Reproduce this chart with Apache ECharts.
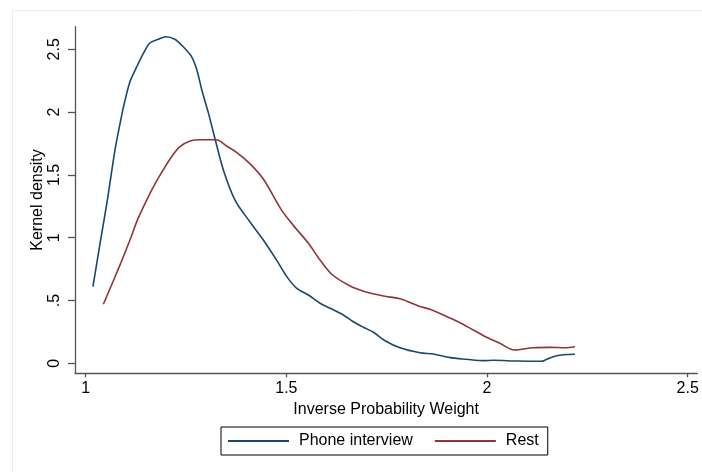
<!DOCTYPE html>
<html>
<head>
<meta charset="utf-8">
<script src="https://cdn.jsdelivr.net/npm/echarts@6/dist/echarts.min.js"></script>
<style>html,body{margin:0;padding:0;background:#fff}#c{width:702px;height:472px}</style>
</head>
<body>
<div id="c"></div>
<script>
const xTicks = [1, 1.5, 2, 2.5];
const yTicks = [0, 0.5, 1, 1.5, 2, 2.5];
const yTickLabels = ['0', '.5', '1', '1.5', '2', '2.5'];

const phoneX = [1.018, 1.036, 1.054, 1.073, 1.085, 1.094, 1.110, 1.127, 1.144, 1.160, 1.181, 1.200, 1.222, 1.243, 1.264, 1.277, 1.289, 1.306, 1.322, 1.343, 1.372, 1.409, 1.443, 1.476, 1.501, 1.526, 1.555, 1.584, 1.609, 1.642, 1.667, 1.692, 1.717, 1.746, 1.783, 1.833, 1.866, 1.908, 1.949, 1.991, 2.016, 2.074, 2.136, 2.145, 2.165, 2.190, 2.219];
const phoneY = [0.61, 0.96, 1.30, 1.70, 1.90, 2.04, 2.24, 2.36, 2.47, 2.55, 2.58, 2.60, 2.58, 2.52, 2.44, 2.335, 2.18, 1.99, 1.79, 1.54, 1.30, 1.127, 0.98, 0.82, 0.69, 0.597, 0.544, 0.478, 0.438, 0.385, 0.331, 0.287, 0.247, 0.18, 0.124, 0.084, 0.074, 0.045, 0.032, 0.021, 0.024, 0.018, 0.016, 0.026, 0.053, 0.068, 0.072];

const restX = [1.044, 1.085, 1.110, 1.130, 1.152, 1.173, 1.193, 1.214, 1.235, 1.260, 1.285, 1.326, 1.351, 1.376, 1.409, 1.443, 1.488, 1.517, 1.555, 1.584, 1.613, 1.659, 1.696, 1.742, 1.787, 1.829, 1.858, 1.891, 1.928, 1.966, 1.999, 2.032, 2.068, 2.115, 2.157, 2.194, 2.219];
const restY = [0.47, 0.78, 0.98, 1.15, 1.30, 1.43, 1.54, 1.645, 1.725, 1.77, 1.78, 1.78, 1.73, 1.68, 1.59, 1.465, 1.22, 1.10, 0.955, 0.822, 0.709, 0.615, 0.57, 0.536, 0.51, 0.456, 0.43, 0.385, 0.331, 0.265, 0.207, 0.159, 0.106, 0.124, 0.127, 0.124, 0.132];

const pair = (xs, ys) => xs.map((x, i) => [x, ys[i]]);
const FONT = '"Liberation Sans", Arial, Helvetica, sans-serif';
const AX = '#555555';

const chart = echarts.init(document.getElementById('c'), null, {renderer: 'canvas'});
chart.setOption({
  animation: false,
  backgroundColor: '#ffffff',
  textStyle: {fontFamily: FONT},
  graphic: [{
    type: 'rect', left: 12, top: 10, silent: true, z: -10,
    shape: {width: 700, height: 470},
    style: {fill: '#ffffff', stroke: '#e6ecef', lineWidth: 1}
  }],
  grid: {left: 75, right: 4.7, top: 26.7, bottom: 98.7, containLabel: false},
  xAxis: {
    type: 'value', min: 0.9733, max: 2.524,
    name: 'Inverse Probability Weight', nameLocation: 'middle', nameGap: 26,
    nameTextStyle: {fontSize: 16, color: '#000', fontFamily: FONT},
    axisLine: {show: true, onZero: false, lineStyle: {color: AX, width: 1.3}},
    axisTick: {show: true, length: 4, customValues: xTicks, lineStyle: {color: AX, width: 1.3}},
    axisLabel: {customValues: xTicks, fontSize: 16, color: '#000', margin: 7, fontFamily: FONT,
      formatter: v => String(v)},
    splitLine: {show: false}
  },
  yAxis: {
    type: 'value', min: -0.0796, max: 2.680,
    name: 'Kernel density', nameLocation: 'middle', nameGap: 29, nameRotate: 90, nameMoveOverlap: false,
    nameTextStyle: {fontSize: 16, color: '#000', fontFamily: FONT},
    axisLine: {show: true, onZero: false, lineStyle: {color: AX, width: 1.3}},
    axisTick: {show: true, length: 7, customValues: yTicks, lineStyle: {color: AX, width: 1.3}},
    axisLabel: {customValues: yTicks, fontSize: 16, color: '#000', margin: 12, rotate: 90, fontFamily: FONT,
      formatter: v => yTickLabels[yTicks.findIndex(t => Math.abs(t - v) < 1e-6)] || ''},
    splitLine: {show: false}
  },
  legend: {
    left: 221, top: 427,
    padding: [6, 9, 6, 7],
    borderColor: '#000', borderWidth: 1,
    icon: 'rect',
    itemWidth: 61, itemHeight: 2, itemGap: 22,
    textStyle: {fontSize: 16, color: '#000', fontFamily: FONT, padding: [0, 0, 0, 5], lineHeight: 16},
    data: ['Phone interview', 'Rest']
  },
  series: [
    {name: 'Phone interview', type: 'line', data: pair(phoneX, phoneY), symbol: 'none', smooth: 0.3,
      lineStyle: {color: '#1a476f', width: 1.6}, itemStyle: {color: '#1a476f'}},
    {name: 'Rest', type: 'line', data: pair(restX, restY), symbol: 'none', smooth: 0.3,
      lineStyle: {color: '#90353b', width: 1.6}, itemStyle: {color: '#90353b'}}
  ]
});
</script>
</body>
</html>
